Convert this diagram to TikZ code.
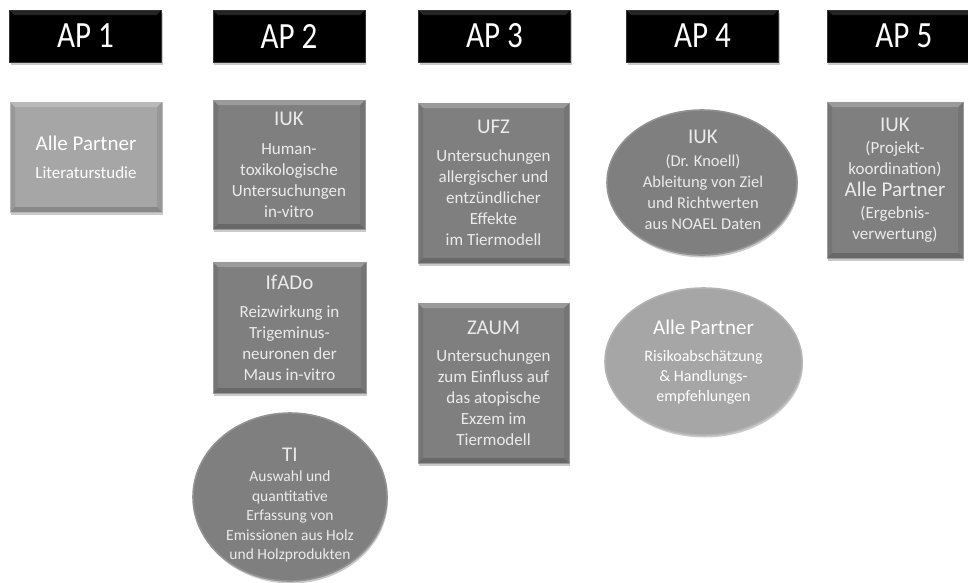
\documentclass[tikz,border=0pt]{standalone}
\usepackage{fontspec}
\setmainfont{Carlito}
\usetikzlibrary{shadows,shapes.geometric}
\definecolor{dk}{HTML}{7F7F7F}
\definecolor{lt}{HTML}{A6A6A6}
\definecolor{txd}{HTML}{EBEBEB}
\newcommand{\hf}{\fontsize{21}{25}\selectfont}
\newcommand{\aph}[1]{\scalebox{0.84}[1]{\fontsize{37}{40}\selectfont #1}}
\begin{document}
\begin{tikzpicture}[x=1pt,y=-1pt,
  shad/.style={drop shadow={shadow xshift=1pt,shadow yshift=-2.5pt,opacity=0.35,fill=black!60}},
  bevel/.style={path picture={
    \coordinate (nw) at (path picture bounding box.north west);
    \coordinate (ne) at (path picture bounding box.north east);
    \coordinate (sw) at (path picture bounding box.south west);
    \coordinate (se) at (path picture bounding box.south east);
    \fill[white,opacity=#1] (nw) -- (ne) -- ([xshift=-5pt,yshift=-5pt]ne) -- ([xshift=5pt,yshift=-5pt]nw) -- cycle;
    \fill[black,opacity=0.18] (sw) -- (se) -- ([xshift=-5pt,yshift=5pt]se) -- ([xshift=5pt,yshift=5pt]sw) -- cycle;
    \fill[black,opacity=0.08] (nw) -- ([xshift=5pt,yshift=-5pt]nw) -- ([xshift=5pt,yshift=5pt]sw) -- (sw) -- cycle;
    \fill[black,opacity=0.08] (ne) -- ([xshift=-5pt,yshift=-5pt]ne) -- ([xshift=-5pt,yshift=5pt]se) -- (se) -- cycle;
  }},
  hdr/.style={rectangle,fill=black,draw=black!80,line width=0.8pt,minimum width=152pt,minimum height=52pt,
    text=white,inner sep=0pt,shad,bevel=0.14},
  bx/.style={rectangle,fill=dk,draw=dk!80!white,line width=1pt,inner sep=0pt,align=center,
    text=txd,font=\fontsize{17}{21}\selectfont,shad,bevel=0.22},
  lbx/.style={bx,fill=lt,draw=lt!80!white,text=white},
  el/.style={ellipse,fill=dk,draw=dk!85!white,line width=1.6pt,inner sep=0pt,shad},
  lel/.style={el,fill=lt,draw=lt!85!white},
  lbl/.style={align=center,text=txd,inner sep=0pt}
]
\useasboundingbox (0,0) rectangle (968,582);
\clip (0,0) rectangle (968,582);
% headers
\node[hdr] (h1) at (85.5,36) {\aph{AP 1}};
\node[hdr] (h2) at (289,36) {\aph{AP 2}};
\node[hdr] (h3) at (494.5,36) {\aph{AP 3}};
\node[hdr] (h4) at (702.5,36) {\aph{AP 4}};
\node[hdr,anchor=west] (h5) at (827,36) {\hspace*{48pt}\aph{AP 5}\hspace*{48pt}};
% AP1
\node[lbx,minimum width=152pt,minimum height=110pt] (a1) at (86,157)
  {{\hf Alle Partner}\\[7pt]Literaturstudie};
% AP2
\node[bx,minimum width=152pt,minimum height=129pt] (b1) at (289,164.5)
  {{\hf IUK}\\[8pt]Human-\\toxikologische\\Untersuchungen\\in-vitro};
\node[bx,minimum width=153pt,minimum height=131pt] (b2) at (289.5,327.5)
  {{\hf IfADo}\\[7pt]Reizwirkung in\\Trigeminus-\\neuronen der\\Maus in-vitro};
\node[el,minimum width=194pt,minimum height=168pt] (b3) at (290,497) {};
\node[lbl,font=\fontsize{15.5}{19.5}\selectfont] (b3t) at (290,505)
  {{\hf TI}\\[1pt]Auswahl und\\quantitative\\Erfassung von\\Emissionen aus Holz\\und Holzprodukten};
% AP3
\node[bx,minimum width=151pt,minimum height=160pt] (c1) at (493.5,183)
  {{\hf UFZ}\\[7pt]Untersuchungen\\allergischer und\\entzündlicher\\Effekte\\im Tiermodell};
\node[bx,minimum width=151pt,minimum height=160pt] (c2) at (493.5,383)
  {{\hf ZAUM}\\[6pt]Untersuchungen\\zum Einfluss auf\\das atopische\\Exzem im\\Tiermodell};
% AP4
\node[el,minimum width=190pt,minimum height=145pt] (d1) at (702,182.5) {};
\node[lbl,font=\fontsize{16.5}{21}\selectfont] (d1t) at (703,180)
  {{\hf IUK}\\[2pt](Dr. Knoell)\\Ableitung von Ziel\\und Richtwerten\\aus NOAEL Daten};
\node[lel,minimum width=197pt,minimum height=147pt] (d2) at (703.5,361.5) {};
\node[lbl,font=\fontsize{16}{20}\selectfont,text=white] (d2t) at (703.5,362)
  {{\hf Alle Partner}\\[7pt]Risikoabschätzung\\\& Handlungs-\\empfehlungen};
% AP5
\node[bx,minimum width=136pt,minimum height=156pt] (e1) at (895,180)
  {{\hf IUK}\\[1pt](Projekt-\\koordination)\\[1pt]{\hf Alle Partner}\\[1pt](Ergebnis-\\verwertung)};
\end{tikzpicture}
\end{document}
